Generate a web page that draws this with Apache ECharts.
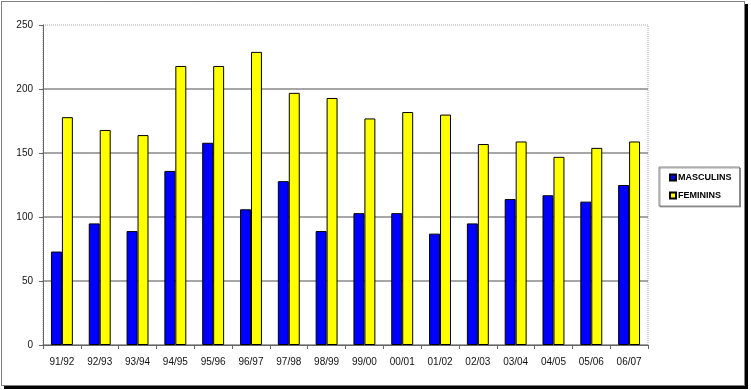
<!DOCTYPE html>
<html>
<head>
<meta charset="utf-8">
<script src="https://cdn.jsdelivr.net/npm/echarts@6/dist/echarts.min.js"></script>
<style>
html,body{margin:0;padding:0;background:#fff;}
#chart{width:751px;height:390px;}
</style>
</head>
<body>
<div id="chart"></div>
<script>
var categories = ['91/92','92/93','93/94','94/95','95/96','96/97','97/98','98/99','99/00','00/01','01/02','02/03','03/04','04/05','05/06','06/07'];
var masculins = [73,95,89,136,158,106,128,89,103,103,87,95,114,117,112,125];
var feminins = [178,168,164,218,218,229,197,193,177,182,180,157,159,147,154,159];
var yTicks = {min:0, max:250, interval:50};

var chart = echarts.init(document.getElementById('chart'), null, {renderer:'canvas'});
var font = 'Liberation Sans, Arial, sans-serif';
chart.setOption({
  animation:false,
  backgroundColor:'#fff',
  graphic:[
    {type:'rect', shape:{x:1.5,y:1.5,width:743,height:384}, style:{fill:'none', stroke:'#000', lineWidth:1, lineDash:[1,1]}, z:0},
    {type:'rect', shape:{x:745,y:4,width:3,height:385}, style:{fill:'#000'}, z:0},
    {type:'rect', shape:{x:4,y:386,width:744,height:3}, style:{fill:'#000'}, z:0}
  ],
  grid:{left:43, right:103, top:25, bottom:45, show:true, borderColor:'#aaa', borderWidth:1, borderType:'dotted', backgroundColor:'transparent'},
  legend:{
    orient:'vertical', left:659, top:167, width:70,
    padding:[6,8,6,10], itemGap:9,
    borderColor:'#888', borderWidth:1,
    shadowColor:'rgba(0,0,0,0.35)', shadowOffsetX:1, shadowOffsetY:1,
    backgroundColor:'#fff',
    itemWidth:6, itemHeight:6, icon:'rect',
    textStyle:{fontFamily:font, fontSize:9, fontWeight:'bold', color:'#000', padding:[0,0,0,-3]},
    data:['MASCULINS','FEMININS']
  },
  xAxis:{
    type:'category', data:categories, boundaryGap:true,
    axisLine:{lineStyle:{color:'#666', width:1}},
    axisTick:{show:true, length:4, inside:false, lineStyle:{color:'#666'}},
    axisLabel:{fontFamily:font, fontSize:10, color:'#111', margin:12}
  },
  yAxis:{
    type:'value', min:yTicks.min, max:yTicks.max, interval:yTicks.interval,
    axisLine:{show:true, lineStyle:{color:'#666', width:1}},
    axisTick:{show:true, length:4, lineStyle:{color:'#666'}},
    axisLabel:{fontFamily:font, fontSize:10, color:'#111', margin:10},
    splitLine:{show:true, showMaxLine:false, lineStyle:{color:'#888', width:1.5}}
  },
  series:[
    {name:'MASCULINS', type:'bar', data:masculins, barGap:'0%', barCategoryGap:'42%',
     itemStyle:{color:'#0000ff', borderColor:'#000', borderWidth:1}},
    {name:'FEMININS', type:'bar', data:feminins, barGap:'0%', barCategoryGap:'42%',
     itemStyle:{color:'#ffff00', borderColor:'#000', borderWidth:1}}
  ]
});
</script>
</body>
</html>
